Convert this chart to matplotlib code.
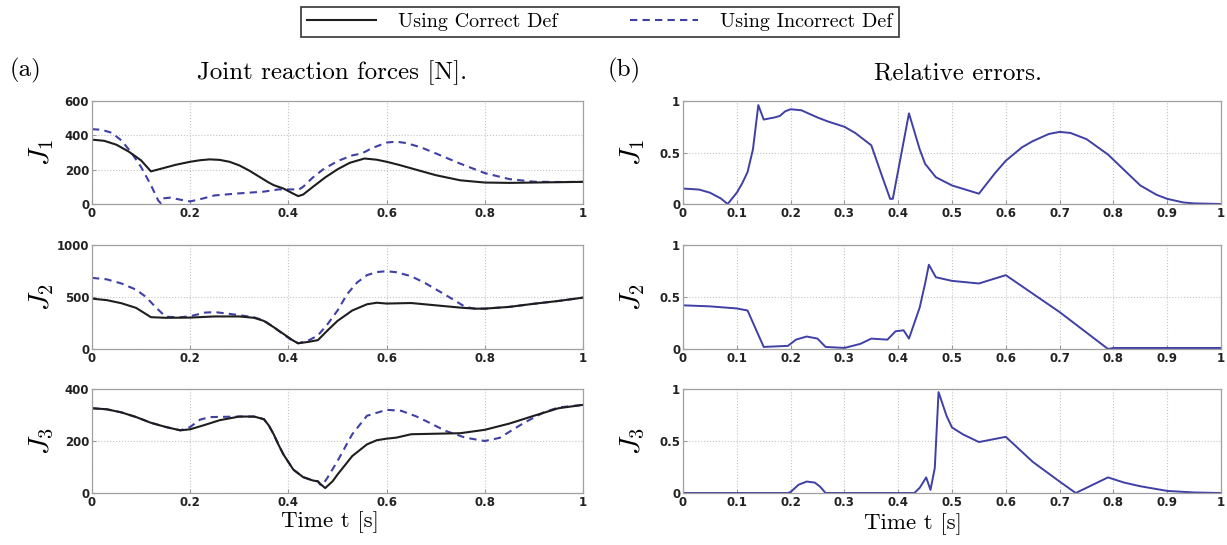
#!/usr/bin/env python3
"""Joint reaction forces (correct vs incorrect def) and relative errors, 3 joints."""

import matplotlib

matplotlib.use("Agg")
import matplotlib.pyplot as plt
from matplotlib.lines import Line2D

plt.rcParams["mathtext.fontset"] = "cm"

# ---- data ------------------------------------------------------------------
# (a) joint reaction forces [N]
j1_t_ok = [0, 0.025, 0.05, 0.075, 0.1, 0.12, 0.14, 0.17, 0.2, 0.22, 0.24, 0.26, 0.28,
           0.3, 0.32, 0.34, 0.36, 0.37, 0.39, 0.41, 0.42, 0.43, 0.45, 0.475, 0.5,
           0.525, 0.555, 0.58, 0.6, 0.625, 0.65, 0.7, 0.75, 0.8, 0.85, 0.9, 1.0]
j1_ok = [375, 368, 345, 305, 254, 190, 205, 228, 246, 255, 260, 257, 246,
         225, 195, 160, 125, 110, 90, 60, 46, 55, 100, 155, 202,
         240, 265, 258, 246, 228, 208, 168, 138, 125, 123, 125, 129]
j1_t_bad = [0, 0.02, 0.04, 0.06, 0.08, 0.1, 0.12, 0.135, 0.14, 0.145, 0.16, 0.18, 0.2,
            0.22, 0.25, 0.3, 0.35, 0.38, 0.41, 0.42, 0.43, 0.45, 0.47, 0.5, 0.53,
            0.55, 0.57, 0.6, 0.62, 0.64, 0.67, 0.7, 0.75, 0.8, 0.85, 0.9, 0.95, 1.0]
j1_bad = [436, 432, 415, 370, 300, 215, 110, 20, 5, 33, 37, 25, 15,
          28, 50, 62, 72, 85, 85, 82, 100, 155, 200, 250, 283,
          295, 325, 358, 363, 355, 330, 295, 235, 180, 145, 130, 128, 129]

j2_t_ok = [0, 0.03, 0.06, 0.09, 0.12, 0.15, 0.2, 0.25, 0.3, 0.33, 0.35, 0.37, 0.39,
           0.41, 0.42, 0.44, 0.46, 0.48, 0.5, 0.53, 0.56, 0.58, 0.6, 0.65, 0.7, 0.75,
           0.78, 0.8, 0.85, 0.9, 0.95, 1.0]
j2_ok = [484, 470, 440, 395, 306, 300, 302, 313, 313, 300, 270, 210, 145,
         80, 55, 68, 85, 180, 270, 370, 430, 445, 437, 442, 420, 398,
         388, 388, 405, 435, 462, 494]
j2_t_bad = [0, 0.03, 0.06, 0.09, 0.11, 0.13, 0.15, 0.18, 0.2, 0.23, 0.25, 0.28, 0.3,
            0.33, 0.35, 0.37, 0.39, 0.41, 0.42, 0.44, 0.46, 0.48, 0.5, 0.52, 0.54,
            0.56, 0.58, 0.6, 0.62, 0.65, 0.68, 0.72, 0.76, 0.78, 0.8, 0.85, 0.9, 0.95,
            1.0]
j2_bad = [684, 670, 630, 570, 500, 400, 310, 305, 315, 350, 355, 338, 325,
          305, 275, 210, 140, 75, 55, 80, 130, 240, 370, 530, 640,
          710, 740, 748, 738, 700, 630, 520, 405, 388, 388, 405, 435, 462,
          494]

j3_t_ok = [0, 0.03, 0.06, 0.09, 0.12, 0.15, 0.18, 0.2, 0.23, 0.26, 0.3, 0.33, 0.35,
           0.36, 0.37, 0.38, 0.39, 0.41, 0.43, 0.45, 0.46, 0.465, 0.475, 0.49, 0.5,
           0.53, 0.56, 0.58, 0.6, 0.62, 0.65, 0.7, 0.75, 0.8, 0.85, 0.9, 0.95, 1.0]
j3_ok = [326, 322, 310, 292, 270, 254, 241, 245, 262, 280, 294, 294, 284,
         260, 226, 185, 148, 90, 61, 48, 45, 35, 19, 45, 71,
         142, 187, 203, 209, 213, 226, 228, 230, 243, 267, 297, 326, 339]
j3_t_bad = [0, 0.03, 0.06, 0.09, 0.12, 0.15, 0.18, 0.2, 0.22, 0.24, 0.27, 0.3, 0.33,
            0.35, 0.36, 0.37, 0.38, 0.39, 0.41, 0.43, 0.45, 0.46, 0.465, 0.47, 0.48,
            0.5, 0.53, 0.56, 0.6, 0.63, 0.66, 0.68, 0.72, 0.76, 0.8, 0.83, 0.88, 0.92,
            0.95, 1.0]
j3_bad = [326, 322, 310, 292, 270, 254, 241, 254, 282, 292, 293, 294, 294,
          284, 260, 226, 185, 148, 90, 61, 48, 45, 32, 32, 60,
          123, 226, 297, 320, 316, 295, 277, 239, 213, 200, 212, 270, 310,
          329, 339]

# (b) relative errors
e1_t = [0, 0.03, 0.05, 0.07, 0.083, 0.1, 0.11, 0.12, 0.13, 0.14, 0.15, 0.17, 0.18,
        0.19, 0.2, 0.22, 0.25, 0.27, 0.3, 0.32, 0.35, 0.37, 0.385, 0.39, 0.42, 0.44,
        0.45, 0.47, 0.5, 0.55, 0.58, 0.6, 0.63, 0.65, 0.68, 0.7, 0.72, 0.75, 0.79,
        0.82, 0.85, 0.88, 0.9, 0.93, 0.95, 1.0]
e1 = [0.15, 0.14, 0.11, 0.055, 0.0, 0.11, 0.2, 0.31, 0.53, 0.96, 0.82, 0.84, 0.855,
      0.90, 0.92, 0.91, 0.84, 0.80, 0.75, 0.69, 0.57, 0.27, 0.05, 0.05, 0.88, 0.53,
      0.39, 0.26, 0.18, 0.10, 0.30, 0.42, 0.55, 0.61, 0.68, 0.70, 0.69, 0.63, 0.48,
      0.33, 0.18, 0.09, 0.05, 0.015, 0.006, 0.0]

e2_t = [0, 0.05, 0.1, 0.12, 0.15, 0.195, 0.21, 0.23, 0.25, 0.265, 0.3, 0.33, 0.35,
        0.38, 0.395, 0.41, 0.42, 0.44, 0.45, 0.457, 0.47, 0.5, 0.55, 0.6, 0.7, 0.79,
        0.8, 1.0]
e2 = [0.42, 0.41, 0.39, 0.37, 0.02, 0.03, 0.09, 0.12, 0.10, 0.02, 0.01, 0.05, 0.10,
      0.09, 0.17, 0.18, 0.10, 0.40, 0.63, 0.81, 0.69, 0.655, 0.63, 0.71, 0.355, 0.0,
      0.01, 0.01]

e3_t = [0, 0.195, 0.2, 0.215, 0.23, 0.245, 0.255, 0.265, 0.43, 0.44, 0.452, 0.46,
        0.468, 0.475, 0.49, 0.5, 0.52, 0.55, 0.6, 0.65, 0.7, 0.73, 0.79, 0.82, 0.85,
        0.9, 0.95, 1.0]
e3 = [0, 0, 0.01, 0.08, 0.11, 0.10, 0.06, 0, 0, 0.05, 0.15, 0.03,
      0.24, 0.97, 0.74, 0.63, 0.565, 0.49, 0.54, 0.30, 0.11, 0.0, 0.15, 0.10, 0.065,
      0.02, 0.005, 0.0]

left_xticks = [0, 0.2, 0.4, 0.6, 0.8, 1]
left_xlabels = ["0", "0.2", "0.4", "0.6", "0.8", "1"]
right_xticks = [0, 0.1, 0.2, 0.3, 0.4, 0.5, 0.6, 0.7, 0.8, 0.9, 1]
right_xlabels = ["0", "0.1", "0.2", "0.3", "0.4", "0.5", "0.6", "0.7", "0.8", "0.9", "1"]
left_yticks = [[0, 200, 400, 600], [0, 500, 1000], [0, 200, 400]]
right_yticks = [0, 0.5, 1]
right_ylabels = ["0", "0.5", "1"]
joint_labels = [r"$J_1$", r"$J_2$", r"$J_3$"]

# ---- layout ------------------------------------------------------------------
W, H = 1227, 545
BLACK = "#1e1e1e"
BLUE = "#3f3fa6"
SERIF = "cmr10"


def px_box(x0, x1, top, bottom):
    return [x0 / W, 1 - bottom / H, (x1 - x0) / W, (bottom - top) / H]


def style_axes(ax, xticks, xlabels, yticks, ylabels):
    ax.set_xlim(0, 1)
    ax.set_ylim(yticks[0], yticks[-1])
    ax.set_xticks(xticks)
    ax.set_xticklabels(xlabels)
    ax.set_yticks(yticks)
    ax.set_yticklabels(ylabels)
    for lab in ax.get_xticklabels() + ax.get_yticklabels():
        lab.set_fontweight("bold")
        lab.set_fontsize(8.5)
        lab.set_color("#222222")
    ax.tick_params(direction="in", length=3, color="#999999", pad=2)
    ax.grid(True, linestyle=":", color="#c4c4c4", linewidth=0.8)
    for sp in ax.spines.values():
        sp.set_color("#a0a0a0")
        sp.set_linewidth(0.9)


fig = plt.figure(figsize=(W / 100, H / 100), dpi=100)

rows = [(101, 204), (245, 349), (389, 493)]
forces = [
    (j1_t_ok, j1_ok, j1_t_bad, j1_bad),
    (j2_t_ok, j2_ok, j2_t_bad, j2_bad),
    (j3_t_ok, j3_ok, j3_t_bad, j3_bad),
]
errors = [(e1_t, e1), (e2_t, e2), (e3_t, e3)]

for i, (top, bottom) in enumerate(rows):
    ax = fig.add_axes(px_box(92, 583, top, bottom))
    t_ok, y_ok, t_bad, y_bad = forces[i]
    ax.plot(t_bad, y_bad, "--", color=BLUE, linewidth=1.5, dashes=(3.5, 2.5))
    ax.plot(t_ok, y_ok, "-", color=BLACK, linewidth=1.5)
    yt = left_yticks[i]
    style_axes(ax, left_xticks, left_xlabels, yt, [str(v) for v in yt])
    fig.text(42 / W, 1 - (top + bottom) / 2 / H, joint_labels[i], fontsize=21,
             rotation=90, ha="center", va="center")

    axr = fig.add_axes(px_box(683, 1221, top, bottom))
    t_e, y_e = errors[i]
    axr.plot(t_e, y_e, "-", color=BLUE, linewidth=1.4)
    style_axes(axr, right_xticks, right_xlabels, right_yticks, right_ylabels)
    fig.text(633 / W, 1 - (top + bottom) / 2 / H, joint_labels[i], fontsize=21,
             rotation=90, ha="center", va="center")

fig.text(332 / W, 1 - 73 / H, "Joint reaction forces [N].", fontname=SERIF,
         fontsize=18, ha="center", va="center")
fig.text(958 / W, 1 - 73 / H, "Relative errors.", fontname=SERIF,
         fontsize=18, ha="center", va="center")
fig.text(25 / W, 1 - 70 / H, "(a)", fontname=SERIF, fontsize=18,
         ha="center", va="center")
fig.text(624 / W, 1 - 70 / H, "(b)", fontname=SERIF, fontsize=18,
         ha="center", va="center")
fig.text(330 / W, 1 - 522 / H, "Time t [s]", fontname=SERIF, fontsize=16.5,
         ha="center", va="center")
fig.text(913 / W, 1 - 524 / H, "Time t [s]", fontname=SERIF, fontsize=16.5,
         ha="center", va="center")

handles = [
    Line2D([], [], color=BLACK, linewidth=1.5),
    Line2D([], [], color=BLUE, linewidth=1.5, linestyle="--", dashes=(3.5, 2.5)),
]
leg = fig.legend(handles, ["Using Correct Def", "Using Incorrect Def"],
                 loc="center", bbox_to_anchor=(600 / W, 1 - 22 / H), ncol=2,
                 prop={"family": SERIF, "size": 14.5}, frameon=True, fancybox=False,
                 edgecolor="black", handlelength=3.4, columnspacing=3.6,
                 borderpad=0.3, handletextpad=1.1)
leg.get_frame().set_linewidth(1.2)

fig.savefig("out.png", dpi=100)
